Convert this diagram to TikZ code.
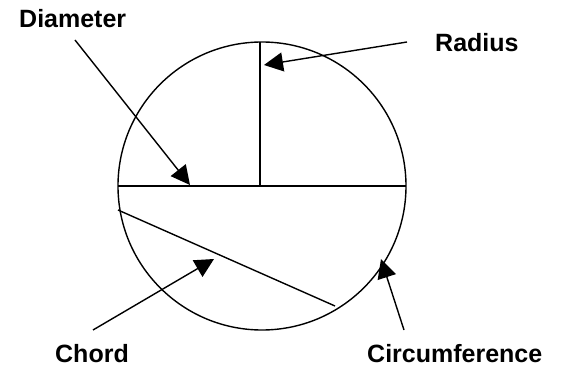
\documentclass[tikz,border=0pt]{standalone}
\usepackage{fontspec}
\setmainfont{Liberation Sans}[BoldFont={Liberation Sans Bold}]
\usetikzlibrary{arrows.meta}
\begin{document}
\begin{tikzpicture}[x=1pt,y=-1pt,
  lbl/.style={inner sep=0pt, anchor=base west, font=\fontsize{25}{29}\selectfont\bfseries},
  ln/.style={line width=1.4pt},
  pointer/.style={line width=1.4pt, -{Triangle[length=19pt,width=19pt]}}]
\useasboundingbox (0,0) rectangle (568,371);
\node[draw, line width=1.4pt, circle, minimum size=288pt, inner sep=0pt] (circ) at (262,186) {};
% diameter and radius
\coordinate (dl) at (118,186);
\coordinate (dr) at (406,186);
\coordinate (ctr) at (260,186);
\coordinate (rtop) at (260,42);
\draw[ln] (dl) -- (dr);
\draw[ln] (ctr) -- (rtop);
% chord
\coordinate (ca) at (118,210);
\coordinate (cb) at (335,306);
\draw[ln] (ca) -- (cb);
% labels
\node[lbl] (diam) at (19,28) {Diameter};
\node[lbl] (rad) at (435,52) {Radius};
\node[lbl] (chord) at (55,363) {Chord};
\node[lbl] (circum) at (367,363) {Circumference};
% pointers
\coordinate (p1s) at (75,40);   \coordinate (p1e) at (190,185);
\coordinate (p2s) at (407,42);  \coordinate (p2e) at (264,65);
\coordinate (p3s) at (93,330);  \coordinate (p3e) at (214,259);
\coordinate (p4s) at (404,330); \coordinate (p4e) at (381,259);
\draw[pointer] (p1s) -- (p1e);
\draw[pointer] (p2s) -- (p2e);
\draw[pointer] (p3s) -- (p3e);
\draw[pointer] (p4s) -- (p4e);
\end{tikzpicture}
\end{document}
